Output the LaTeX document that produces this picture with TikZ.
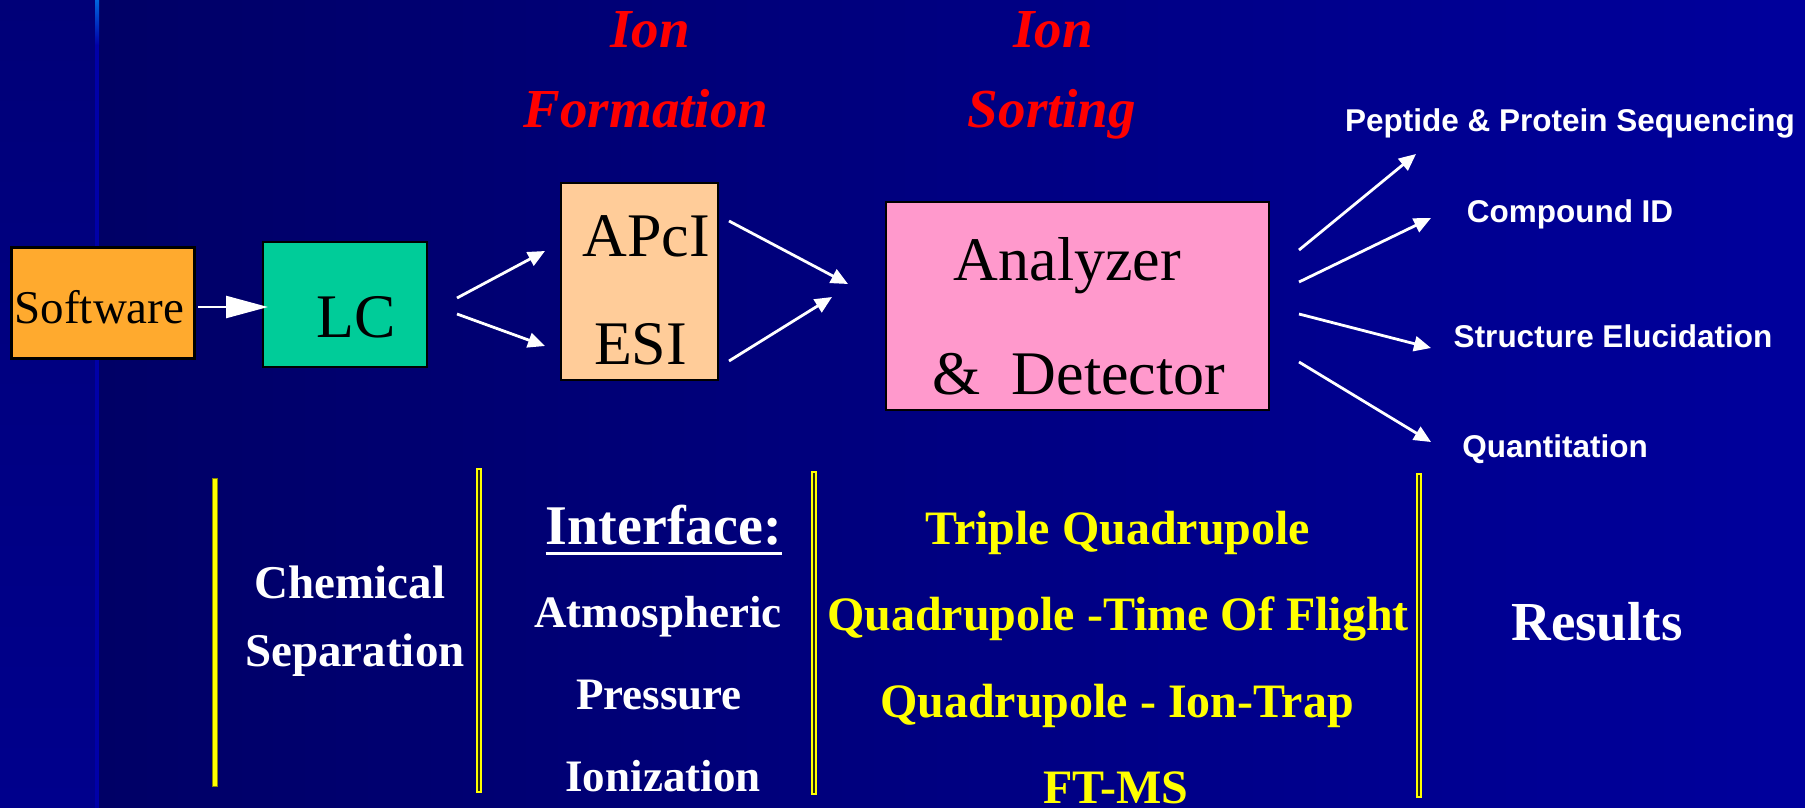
\documentclass[tikz,border=0pt]{standalone}
\usepackage{fontspec}
\setmainfont{Liberation Serif}
\newfontfamily\arialf{Liberation Sans}
\usetikzlibrary{arrows.meta}
\definecolor{bgL}{HTML}{000066}
\definecolor{bgR}{HTML}{00009C}
\definecolor{stripT}{HTML}{000078}
\definecolor{stripB}{HTML}{00008C}
\definecolor{lineT}{HTML}{0066DD}
\definecolor{lineB}{HTML}{0000A8}
\definecolor{swc}{HTML}{FFAA2E}
\definecolor{lcc}{HTML}{00CC99}
\definecolor{ionc}{HTML}{FFCC99}
\definecolor{anc}{HTML}{FF99CC}
\definecolor{ylw}{HTML}{FFFF00}
\definecolor{olive}{HTML}{8A8A00}
\definecolor{bardark}{HTML}{2A2A10}
\definecolor{redt}{HTML}{FF0000}
\begin{document}
\begin{tikzpicture}[x=1pt,y=-1pt,
  box/.style={draw=black, line width=2pt, inner sep=0pt},
  txt/.style={inner sep=0pt, anchor=base},
  boxtxt/.style={txt, text=black, font=\fontsize{62}{62}\selectfont},
  redtitle/.style={txt, text=redt, font=\fontsize{55}{55}\selectfont\bfseries\itshape},
  reslabel/.style={txt, text=white, font=\arialf\fontsize{31.5}{31.5}\selectfont\bfseries},
  whitebold/.style={txt, text=white, font=\fontsize{47}{47}\selectfont\bfseries},
  ylwbold/.style={txt, text=ylw, font=\fontsize{48}{48}\selectfont\bfseries},
  arr/.style={draw=white, line width=2.8pt, -{Triangle[length=17pt,width=15pt]}},
  dbar/.style={draw=ylw, fill=bardark, line width=1.8pt},
]
\useasboundingbox (0,0) rectangle (1805,808);
% background
\fill[left color=bgL, right color=bgR] (99,0) rectangle (1805,808);
\fill[top color=stripT, bottom color=stripB] (0,0) rectangle (95,808);
\fill[top color=lineT, bottom color=lineB] (95,0) rectangle (99,45);
\fill[lineB] (95,45) rectangle (99,808);

% boxes
\node[box, fill=swc, line width=3pt, minimum width=183pt, minimum height=111pt] (sw) at (102.5,302.5) {};
\node[box, fill=lcc, minimum width=164pt, minimum height=125pt] (lc) at (345,304.5) {};
\node[box, fill=ionc, minimum width=157pt, minimum height=197pt] (ion) at (639.5,281.5) {};
\node[box, fill=anc, minimum width=383pt, minimum height=208pt] (an) at (1077.5,306) {};

% box texts
\node[boxtxt, font=\fontsize{47}{47}\selectfont] (swt) at (99.5,323) {Software};
\node[boxtxt] (lct) at (356,337) {LC};
\node[boxtxt] (apci) at (646,256) {APcI};
\node[boxtxt] (esi) at (640.5,364) {ESI};
\node[boxtxt] (anz) at (1067.5,280) {Analyzer};
\node[boxtxt] (det) at (1079,394) {\&\ \ Detector};

% red titles
\node[redtitle] (ion1) at (650,48) {Ion};
\node[redtitle] (form) at (646,128) {Formation};
\node[redtitle] (ion2) at (1053,48) {Ion};
\node[redtitle] (sort) at (1052,128) {Sorting};

% results labels
\node[reslabel] (pep) at (1570,131) {Peptide \& Protein Sequencing};
\node[reslabel] (cid) at (1570,222) {Compound ID};
\node[reslabel] (sel) at (1613,347) {Structure Elucidation};
\node[reslabel] (qua) at (1555,457) {Quantitation};

% arrow coordinates
\coordinate (a0s) at (198,307); \coordinate (a0e) at (268,307);
\coordinate (a1s) at (457,298); \coordinate (a1e) at (545,251);
\coordinate (a2s) at (457,314); \coordinate (a2e) at (545,346);
\coordinate (a3s) at (729,221); \coordinate (a3e) at (848,284);
\coordinate (a4s) at (729,361); \coordinate (a4e) at (832,297);
\coordinate (r1s) at (1299,250); \coordinate (r1e) at (1416,154);
\coordinate (r2s) at (1299,282); \coordinate (r2e) at (1431,218);
\coordinate (r3s) at (1299,314); \coordinate (r3e) at (1431,348);
\coordinate (r4s) at (1299,362); \coordinate (r4e) at (1431,442);

\draw[draw=white, line width=2.4pt, -{Triangle[length=42pt,width=22pt]}] (a0s) -- (a0e);
\draw[arr] (a1s) -- (a1e);
\draw[arr] (a2s) -- (a2e);
\draw[arr] (a3s) -- (a3e);
\draw[arr] (a4s) -- (a4e);
\draw[arr] (r1s) -- (r1e);
\draw[arr] (r2s) -- (r2e);
\draw[arr] (r3s) -- (r3e);
\draw[arr] (r4s) -- (r4e);

% bars
\fill[ylw, draw=olive, line width=0.8pt] (212,478) rectangle (217,786);
\draw[dbar] (477,469) rectangle (481,792);
\draw[dbar] (812,472) rectangle (816,794);
\draw[dbar] (1417,474) rectangle (1421,797);

% bottom texts
\node[whitebold] (chem) at (350,598) {Chemical};
\node[whitebold] (sep) at (355,666) {Separation};
\node[whitebold, font=\fontsize{56}{56}\selectfont\bfseries] (iface) at (664,544) {Interface:};
\draw[white, line width=3pt] ([yshift=-9pt]iface.base west) -- ([yshift=-9pt]iface.base east);
\node[whitebold, font=\fontsize{45}{45}\selectfont\bfseries] (atm) at (658,627) {Atmospheric};
\node[whitebold, font=\fontsize{45}{45}\selectfont\bfseries] (pres) at (659,709) {Pressure};
\node[whitebold, font=\fontsize{45}{45}\selectfont\bfseries] (ioniz) at (663,791) {Ionization};

\node[ylwbold] (tq) at (1118,544) {Triple Quadrupole};
\node[ylwbold] (qtof) at (1118,630) {Quadrupole -Time Of Flight};
\node[ylwbold] (qit) at (1117,717) {Quadrupole - Ion-Trap};
\node[ylwbold] (ftms) at (1116,803) {FT-MS};

\node[whitebold, font=\fontsize{55}{55}\selectfont\bfseries] (res) at (1597,640) {Results};
\end{tikzpicture}
\end{document}
